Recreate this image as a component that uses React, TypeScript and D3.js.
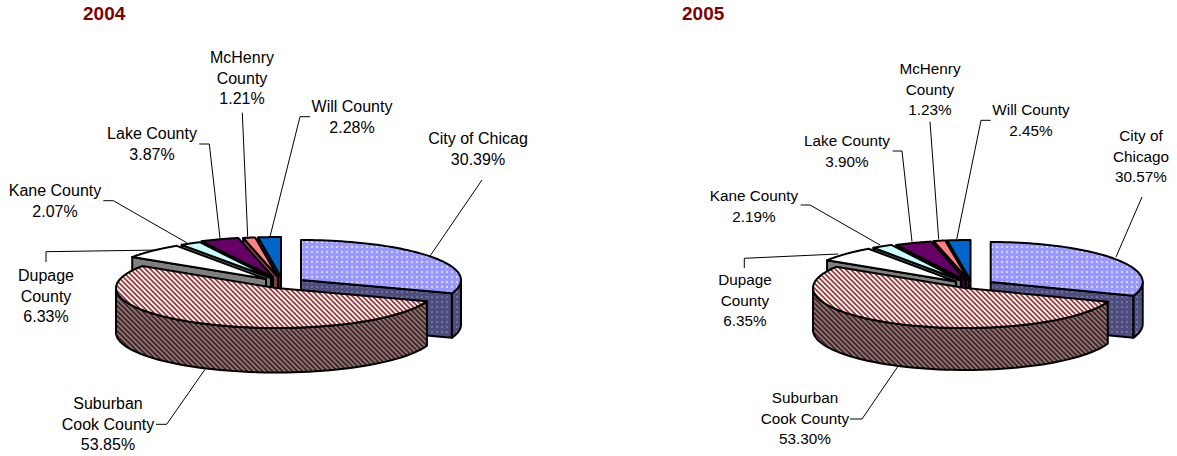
import React from "react";
import * as d3 from "d3";

const categories = ["City of Chicago", "Suburban Cook County", "Dupage County", "Kane County", "Lake County", "McHenry County", "Will County"];
const values2004 = [30.39, 53.85, 6.33, 2.07, 3.87, 1.21, 2.28];
const values2005 = [30.57, 53.3, 6.35, 2.19, 3.9, 1.23, 2.45];
const labels2004 = [
  ["City of Chicag", "30.39%"],
  ["Suburban", "Cook County", "53.85%"],
  ["Dupage", "County", "6.33%"],
  ["Kane County", "2.07%"],
  ["Lake County", "3.87%"],
  ["McHenry", "County", "1.21%"],
  ["Will County", "2.28%"],
];
const labels2005 = [
  ["City of", "Chicago", "30.57%"],
  ["Suburban", "Cook County", "53.30%"],
  ["Dupage", "County", "6.35%"],
  ["Kane County", "2.19%"],
  ["Lake County", "3.90%"],
  ["McHenry", "County", "1.23%"],
  ["Will County", "2.45%"],
];

// styling per category
const topFills = ["url(#dotTop)", "url(#stripeTop)", "#FFFFFF", "#CCFFFF", "#660066", "#FF8080", "#0066CC"];
const wallFills = ["url(#dotWall)", "url(#stripeWall)", "#808080", "#668080", "#330033", "#804040", "#003366"];
const drawOrder = [6, 5, 4, 3, 2, 0, 1];

type Layout = {
  title: string; titleX: number; rx: number; ry: number; depth: number; fontSize: number; lineH: number;
  centers: number[][]; labelPos: number[][]; leaders: number[][][];
};

const layout2004: Layout = {
  title: "2004", titleX: 83, rx: 160, ry: 40, depth: 44.5, fontSize: 16, lineH: 20.6,
  centers: [[301, 280], [276, 288], [266, 279], [271, 278], [273, 277], [278, 277], [281, 277]],
  labelPos: [[478, 144], [108, 409], [46, 281], [55, 196], [152, 139], [242, 63], [352, 112]],
  leaders: [
    [[482, 180], [430, 256]],
    [[156, 424.3], [166.7, 424.3], [205, 369.3]],
    [[46, 262], [46, 251.7], [160, 250]],
    [[103.3, 200.7], [113.3, 200.7], [186.7, 242.7]],
    [[199.3, 144], [209.3, 144], [220, 238.3]],
    [[242.3, 112.7], [247.7, 236.7]],
    [[310, 116.7], [300, 116.7], [270, 236.7]],
  ],
};

const layout2005: Layout = {
  title: "2005", titleX: 682, rx: 152, ry: 40, depth: 42, fontSize: 15.3, lineH: 20.6,
  centers: [[990.7, 282], [965, 288], [956, 281.5], [961, 280.5], [966, 280.5], [968.5, 280], [970.5, 280]],
  labelPos: [[1141, 141], [805, 403], [745, 285], [754, 201], [847, 146], [930, 74], [1031, 115]],
  leaders: [
    [[1142, 197], [1116, 257]],
    [[850, 419], [862, 419], [897.7, 366.7]],
    [[744.3, 268], [744.3, 258.3], [838, 254]],
    [[800.7, 205], [810, 205], [880, 245]],
    [[892.7, 151], [902, 151], [912, 241.7]],
    [[930, 121.7], [938.7, 239.3]],
    [[990.7, 120.3], [981, 120.3], [956.7, 239.3]],
  ],
};

const line = d3.line();
const pieGen = d3.pie<number>().sort(null).startAngle(0).endAngle(2 * Math.PI);

function PieChart({ values, labels, layout }: { values: number[]; labels: string[][]; layout: Layout }) {
  const arcs = pieGen(values);
  const { rx, ry, depth } = layout;
  const project = (i: number, a: number, drop = 0): [number, number] => [
    layout.centers[i][0] + rx * Math.sin(a),
    layout.centers[i][1] - ry * Math.cos(a) + drop,
  ];
  const sample = (a0: number, a1: number) => d3.range(0, 61).map((k) => a0 + ((a1 - a0) * k) / 60);
  const stroke = { stroke: "#000", strokeWidth: 2, strokeLinejoin: "round" as const };

  return (
    <g>
      <text x={layout.titleX} y={20} fontSize={19} fontWeight="bold" fill="#800000" fontFamily="Liberation Sans">
        {layout.title}
      </text>
      {layout.leaders.map((pts, i) => (
        <path key={i} d={line(pts as [number, number][])!} fill="none" stroke="#000" strokeWidth={1} />
      ))}
      {drawOrder.map((i) => {
        const { startAngle: a0, endAngle: a1 } = arcs[i];
        const apexCenter: [number, number] = [layout.centers[i][0], layout.centers[i][1]];
        const arcPts = sample(a0, a1).map((a) => project(i, a));
        const topD = line([apexCenter, ...arcPts])! + "Z";
        const parts: React.ReactNode[] = [];
        const radial = (a: number, key: string) => {
          const p = project(i, a);
          const q = project(i, a, depth);
          const d = line([apexCenter, p, q, [apexCenter[0], apexCenter[1] + depth]])! + "Z";
          parts.push(<path key={key} d={d} fill={wallFills[i]} {...stroke} />);
        };
        if (Math.sin(a0) < -1e-6) radial(a0, "s");
        if (Math.sin(a1) > 1e-6) radial(a1, "e");
        const o0 = Math.max(a0, Math.PI / 2);
        const o1 = Math.min(a1, (3 * Math.PI) / 2);
        if (o1 > o0) {
          const upper = sample(o0, o1).map((a) => project(i, a));
          const lower = sample(o1, o0).map((a) => project(i, a, depth));
          parts.push(<path key="o" d={line([...upper, ...lower])! + "Z"} fill={wallFills[i]} {...stroke} />);
        }
        return (
          <g key={categories[i]}>
            {parts}
            <path d={topD} fill={topFills[i]} {...stroke} />
          </g>
        );
      })}
      {labels.map((lines, i) => (
        <text key={i} textAnchor="middle" fontFamily="Liberation Sans" fontSize={layout.fontSize} fill="#000">
          {lines.map((t, k) => (
            <tspan key={k} x={layout.labelPos[i][0]} y={layout.labelPos[i][1] + k * layout.lineH}>
              {t}
            </tspan>
          ))}
        </text>
      ))}
    </g>
  );
}

export default function App() {
  return (
    <svg
      width={1177}
      height={456}
      viewBox="0 0 1177 456"
      style={{ position: "absolute", left: 0, top: 0, background: "#fff" }}
    >
      <defs>
        <pattern id="dotTop" patternUnits="userSpaceOnUse" width={5} height={5}>
          <rect width={5} height={5} fill="#9999FF" />
          <rect x={1} y={1} width={2} height={2} fill="#D6D6FF" />
        </pattern>
        <pattern id="dotWall" patternUnits="userSpaceOnUse" width={5} height={5}>
          <rect width={5} height={5} fill="#4D4D80" />
          <rect x={1} y={1} width={2} height={2} fill="#73739A" />
        </pattern>
        <pattern id="stripeTop" patternUnits="userSpaceOnUse" width={5} height={5}>
          <rect width={5} height={5} fill="#FFFFCC" />
          <path d="M0,0 L2.5,0 L7.5,5 L5,5 Z M-5,0 L-2.5,0 L2.5,5 L0,5 Z" fill="#993366" />
        </pattern>
        <pattern id="stripeWall" patternUnits="userSpaceOnUse" width={5} height={5}>
          <rect width={5} height={5} fill="#807F66" />
          <path d="M0,0 L2.5,0 L7.5,5 L5,5 Z M-5,0 L-2.5,0 L2.5,5 L0,5 Z" fill="#4D1A33" />
        </pattern>
      </defs>
      <PieChart values={values2004} labels={labels2004} layout={layout2004} />
      <PieChart values={values2005} labels={labels2005} layout={layout2005} />
    </svg>
  );
}
